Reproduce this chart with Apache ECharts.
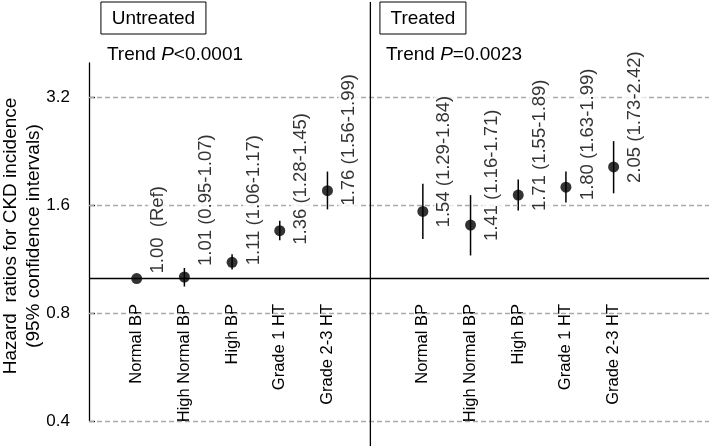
<!DOCTYPE html>
<html><head><meta charset="utf-8">
<script src="https://cdn.jsdelivr.net/npm/echarts@6/dist/echarts.min.js"></script>
<style>html,body{margin:0;padding:0;background:#fff}#c{width:709px;height:446px}</style>
</head><body><div id="c"></div>
<script>
// ---- data ----
const categories = ['Normal BP', 'High Normal BP', 'High BP', 'Grade 1 HT', 'Grade 2-3 HT'];
const groupNames = ['Untreated', 'Treated'];
const trendP = ['<0.0001', '=0.0023'];
const untreatedHR = [1.00, 1.01, 1.11, 1.36, 1.76];
const untreatedLow = [null, 0.95, 1.06, 1.28, 1.56];
const untreatedHigh = [null, 1.07, 1.17, 1.45, 1.99];
const treatedHR = [1.54, 1.41, 1.71, 1.80, 2.05];
const treatedLow = [1.29, 1.16, 1.55, 1.63, 1.73];
const treatedHigh = [1.84, 1.71, 1.89, 1.99, 2.42];
const untreatedLabels = ['1.00  (Ref)', '1.01 (0.95-1.07)', '1.11 (1.06-1.17)', '1.36 (1.28-1.45)', '1.76 (1.56-1.99)'];
const treatedLabels = ['1.54 (1.29-1.84)', '1.41 (1.16-1.71)', '1.71 (1.55-1.89)', '1.80 (1.63-1.99)', '2.05 (1.73-2.42)'];
const yTickLabels = [0.4, 0.8, 1.6, 3.2];
const yMin = 0.4, yMax = 4.0, refValue = 1.0;
const yTitle = 'Hazard  ratios for CKD incidence\n(95% confidence intervals)';

// ---- styles (not data) ----
const untreatedLabelDy = [-3, -9, 5, 16, 17];
const treatedLabelDy = [18, 18, 18, 15, 18];
const FONT = '"Liberation Sans", Arial, sans-serif';
const TXT = '#000';

// log2 scale transform relative to axis minimum
const t = v => Math.log2(v / yMin);
const xPos = (g, i) => g === 0 ? i + 1 : i + 7;
const xToCat = v => categories[v < 6 ? v - 1 : v - 7];

const groupsHR = [untreatedHR, treatedHR];
const groupsLow = [untreatedLow, treatedLow];
const groupsHigh = [untreatedHigh, treatedHigh];
const groupsLab = [untreatedLabels, treatedLabels];
const groupsDy = [untreatedLabelDy, treatedLabelDy];

const pointData = [], barData = [];
for (let g = 0; g < 2; g++) {
  groupsHR[g].forEach((hr, i) => {
    const x = xPos(g, i);
    pointData.push({
      value: [x, t(hr)],
      label: { formatter: groupsLab[g][i], position: [27, 5.5 + groupsDy[g][i]] }
    });
    if (groupsLow[g][i] != null) barData.push([x, t(groupsLow[g][i]), t(groupsHigh[g][i])]);
  });
}
const xCustom = [];
for (let g = 0; g < 2; g++) categories.forEach((c, i) => xCustom.push(xPos(g, i)));
const yCustom = yTickLabels.map(t);

const chart = echarts.init(document.getElementById('c'), null, { renderer: 'canvas' });
const option = {
  animation: false,
  textStyle: { fontFamily: FONT },
  grid: { left: 89, right: 0, top: 63, bottom: 25 },
  xAxis: {
    type: 'value', min: 0, max: 13, z: 3,
    offset: -118,
    axisLine: { show: false }, axisTick: { show: false }, splitLine: { show: false },
    axisLabel: {
      customValues: xCustom, rotate: 90, margin: 0,
      formatter: v => xToCat(v),
      fontSize: 16.5, color: TXT, fontFamily: FONT,
      backgroundColor: '#fff', padding: [10, 1, 10, 2]
    }
  },
  yAxis: {
    type: 'value', min: 0, max: t(yMax),
    axisLine: { show: true, lineStyle: { color: '#000', width: 1.3 } },
    axisTick: { show: true, inside: true, length: 6, customValues: yCustom, lineStyle: { color: '#000', width: 1.3 } },
    axisLabel: {
      customValues: yCustom, margin: 19, fontSize: 17, color: TXT, fontFamily: FONT,
      formatter: v => String(yTickLabels[yCustom.findIndex(c => Math.abs(c - v) < 1e-6)])
    },
    splitLine: { show: false }
  },
  series: [
    {
      type: 'line', data: [], z: 1, silent: true,
      markLine: {
        silent: true, symbol: ['none', 'none'], label: { show: false },
        lineStyle: { type: [5, 3], color: '#aaaaaa', width: 1.3 },
        data: yTickLabels.map(v => ({ yAxis: t(v) }))
      }
    },
    {
      type: 'custom', z: 4, silent: true,
      data: barData,
      encode: { x: 0, y: [1, 2] },
      renderItem: (params, api) => {
        const x = api.value(0);
        const a = api.coord([x, api.value(1)]);
        const b = api.coord([x, api.value(2)]);
        return { type: 'line', shape: { x1: a[0], y1: a[1], x2: b[0], y2: b[1] }, style: { stroke: '#000', lineWidth: 1.5 } };
      }
    },
    {
      type: 'line', data: [], z: 5, silent: true,
      markLine: {
        silent: true, symbol: ['none', 'none'], label: { show: false },
        lineStyle: { type: 'solid', color: '#000', width: 1.3 },
        data: [{ yAxis: t(refValue) }]
      }
    },
    {
      type: 'scatter', z: 6, silent: true,
      symbol: 'circle', symbolSize: 11,
      itemStyle: { color: '#000' },
      data: pointData,
      label: {
        show: true, rotate: 90, align: 'left', verticalAlign: 'middle',
        fontSize: 18.5, color: TXT, fontFamily: FONT,
        backgroundColor: '#fff', padding: [1, 2, 1, 2]
      }
    }
  ]
};
chart.setOption(option);

const divX = chart.convertToPixel({ xAxisIndex: 0 }, 5.9);
const boxes = [
  { name: groupNames[0], x: chart.convertToPixel({ xAxisIndex: 0 }, 0.25), w: 105 },
  { name: groupNames[1], x: chart.convertToPixel({ xAxisIndex: 0 }, 6.1), w: 86 }
];
const graphics = [
  { type: 'line', shape: { x1: divX, y1: 2, x2: divX, y2: 446 }, style: { stroke: '#000', lineWidth: 1.3 }, z: 10 },
  {
    type: 'text', x: 22, y: 236, rotation: Math.PI / 2,
    style: { text: yTitle, font: '19px ' + FONT, fill: TXT, align: 'center', verticalAlign: 'middle', lineHeight: 23 }
  }
];
boxes.forEach((b, g) => {
  graphics.push({ type: 'rect', shape: { x: b.x, y: 2, width: b.w, height: 32 }, style: { fill: '#fff', stroke: '#000', lineWidth: 1 }, z: 10 });
  graphics.push({ type: 'text', x: b.x + b.w / 2, y: 19, z: 11,
    style: { text: b.name, font: '19px ' + FONT, fill: TXT, align: 'center', verticalAlign: 'middle' } });
  graphics.push({ type: 'text', x: b.x + 6, y: 55, z: 11,
    style: {
      text: 'Trend {i|P}' + trendP[g], font: '19px ' + FONT, fill: TXT, verticalAlign: 'middle',
      rich: { i: { fontStyle: 'italic', fontSize: 19, fontFamily: FONT, fill: TXT } }
    } });
});
chart.setOption({ graphic: graphics });
</script>
</body></html>
